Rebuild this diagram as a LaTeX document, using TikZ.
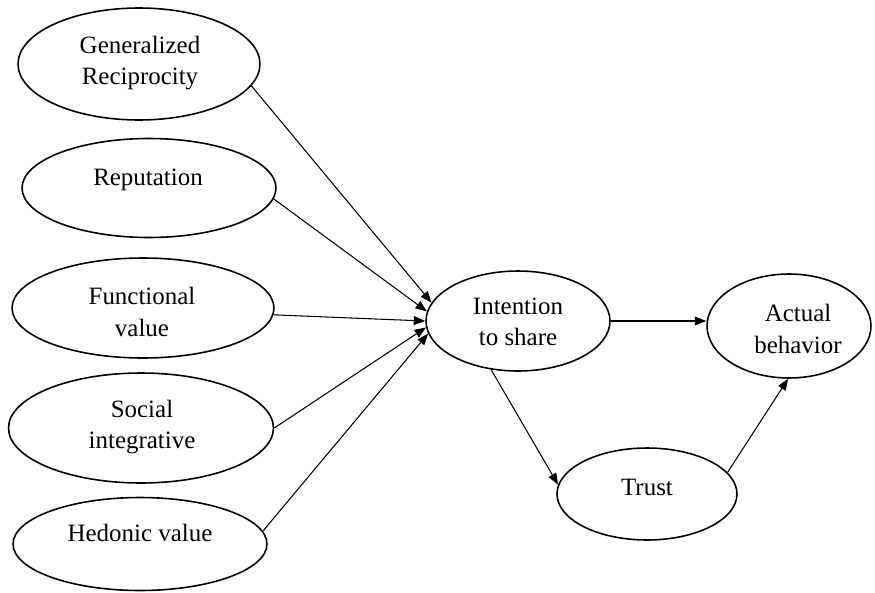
\documentclass[tikz,border=0pt]{standalone}
\usepackage{fontspec}
\setmainfont{Liberation Serif}
\usetikzlibrary{shapes.geometric,arrows.meta}
\begin{document}
\begin{tikzpicture}[x=0.02cm,y=-0.02cm,
 oval/.style={draw,ellipse,line width=0.9pt,inner sep=0pt},
 lbl/.style={align=center,font=\fontsize{14.2}{18}\selectfont,inner sep=0pt},
 arr/.style={line width=0.6pt,-{Triangle[length=6.5pt,width=5pt]}}]
\useasboundingbox (0,0) rectangle (875,592);
% ellipses
\node[oval,minimum width=4.84cm,minimum height=2.24cm] (gr) at (139,64) {};
\node[oval,minimum width=5.08cm,minimum height=1.98cm] (rep) at (149,188) {};
\node[oval,minimum width=5.24cm,minimum height=2.0cm] (fun) at (143,308) {};
\node[oval,minimum width=5.30cm,minimum height=2.2cm] (soc) at (141,428) {};
\node[oval,minimum width=5.08cm,minimum height=1.86cm] (hed) at (140,544) {};
\node[oval,minimum width=3.68cm,minimum height=2.0cm] (int) at (518,321) {};
\node[oval,minimum width=3.28cm,minimum height=2.08cm] (act) at (789,326) {};
\node[oval,minimum width=3.6cm,minimum height=1.84cm] (tru) at (647,494) {};
% labels
\node[lbl] (tgr) at (140,63) {Generalized\\Reciprocity};
\node[lbl] (trep) at (148,180) {Reputation};
\node[lbl] (tfun) at (142,312) {Functional\\value};
\node[lbl] (tsoc) at (142,427) {Social\\integrative};
\node[lbl] (thed) at (140,533) {Hedonic value};
\node[lbl] (tint) at (518,322) {Intention\\to share};
\node[lbl] (tact) at (798,329) {Actual\\behavior};
\node[lbl] (ttru) at (647,487) {Trust};
% connectors
\draw[arr] (gr.-11) -- (int.168);
\draw[arr] (rep.-5) -- (int.174);
\draw[arr] (fun.-3) -- (int.180);
\draw[arr] (soc.0) -- (int.184);
\draw[arr] (hed.6) -- (int.188);
\draw[arr] (int.east) -- (int.east -| act.west);
\draw[arr] (int.241.6) -- (tru.174);
\draw[arr] (tru.15) -- (act.269);
\end{tikzpicture}
\end{document}
